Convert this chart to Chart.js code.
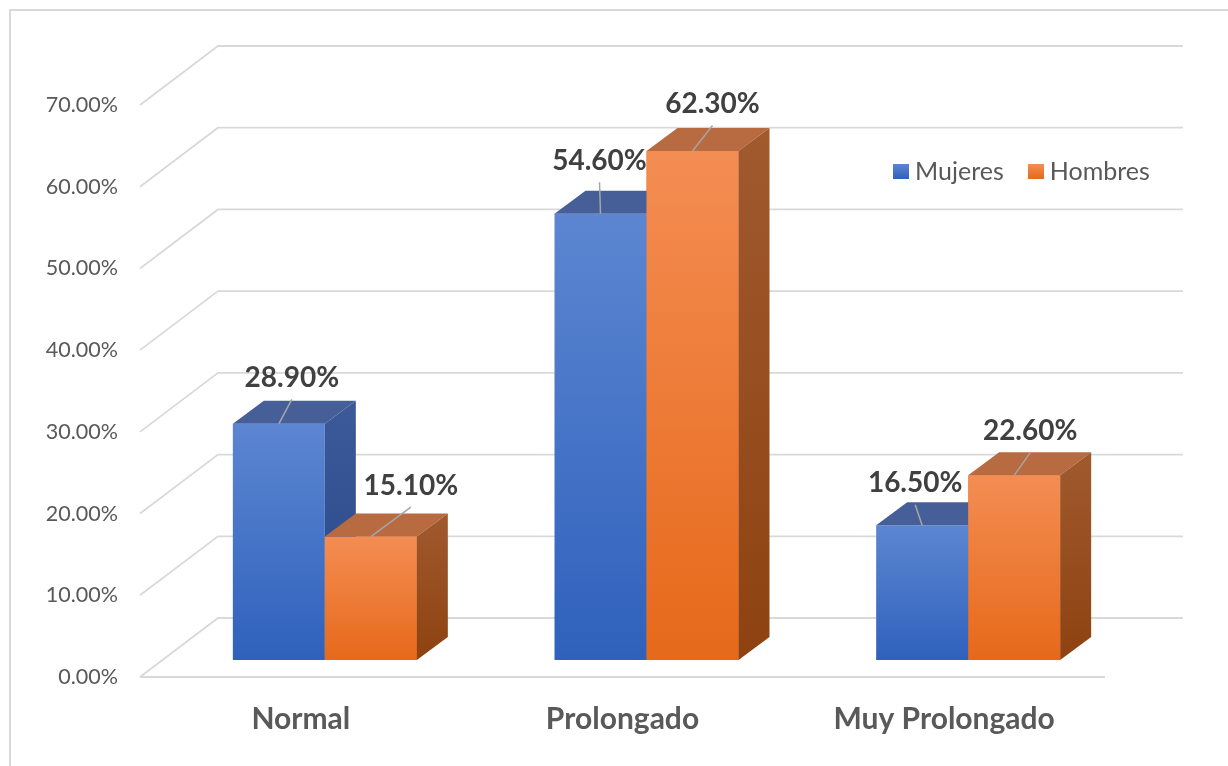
<!DOCTYPE html>
<html>
<head>
<meta charset="utf-8">
<script src="https://cdn.jsdelivr.net/npm/chart.js@4.4.1/dist/chart.umd.min.js"></script>
<style>
  html, body { margin: 0; padding: 0; background: #ffffff; }
  #wrap { position: relative; width: 1228px; height: 766px; overflow: hidden; }
  #frame { position: absolute; left: 9px; top: 9px; width: 1260px; height: 800px;
           border: 2px solid #D9D9D9; box-sizing: border-box; }
  #chartBox { position: absolute; left: 0; top: 0; width: 1228px; height: 766px; }
  #legend { position: absolute; left: 893px; top: 155px; display: flex; align-items: center;
            font-family: Lato, "Open Sans", sans-serif; font-size: 25px; color: #595959; }
  .item { display: flex; align-items: center; margin-right: 24px; }
  .sw { width: 16px; height: 15px; margin-right: 6px; margin-top: 2px; }
</style>
</head>
<body>
<div id="wrap">
  <div id="frame"></div>
  <div id="chartBox"><canvas id="c"></canvas></div>
  <div id="legend"></div>
</div>
<script>
// ---------- data ----------
const categories = ['Normal', 'Prolongado', 'Muy Prolongado'];
const seriesNames = ['Mujeres', 'Hombres'];
const mujeres = [28.9, 54.6, 16.5];
const hombres = [15.1, 62.3, 22.6];
const yTicks = [0, 10, 20, 30, 40, 50, 60, 70];

// ---------- style ----------
const frontTop = ['#5C86D1', '#F48D53'];
const frontBot = ['#2F61BC', '#E6691A'];
const topFace  = ['#475F98', '#B86A40'];
const sideTop  = ['#3C5A98', '#A05A2E'];
const sideBot  = ['#28478A', '#8E4211'];
const FRONT = { dx: -24, dy: 17 };   // front floor edge relative to bar plane
const BACK  = { dx: 54,  dy: -42 };  // back wall relative to bar plane
const DEPTH = { dx: 31,  dy: -23 };  // bar depth
// label placement nudges [series][category] relative to bar top centre (dx, dy)
const labelNudge = [
  [[13, -47], [-1, -54], [-7, -43]],
  [[40, -52], [20, -48], [16, -45]]
];

function fmt(v) { return Number(v).toFixed(2) + '%'; }

function frontFill(c, di) {
  const chart = c.chart;
  const y = chart.scales && chart.scales.y;
  if (!y || c.raw === undefined) return frontTop[di];
  const t = y.getPixelForValue(c.raw), b = y.getPixelForValue(0);
  if (!isFinite(t) || !isFinite(b)) return frontTop[di];
  const g = chart.ctx.createLinearGradient(0, t, 0, b);
  g.addColorStop(0, frontTop[di]);
  g.addColorStop(1, frontBot[di]);
  return g;
}

const threeD = {
  id: 'threeD',
  beforeDatasetsDraw(chart) {
    const { ctx, chartArea: a, scales: { y } } = chart;
    ctx.save();
    ctx.strokeStyle = '#D9D9D9';
    ctx.lineWidth = 1.8;
    yTicks.forEach(v => {
      const p = y.getPixelForValue(v);
      ctx.beginPath();
      ctx.moveTo(a.left + FRONT.dx, p + FRONT.dy);
      ctx.lineTo(a.left + BACK.dx, p + BACK.dy);
      ctx.lineTo(a.right + BACK.dx, p + BACK.dy);
      ctx.stroke();
    });
    const p0 = y.getPixelForValue(0);
    ctx.beginPath();
    ctx.moveTo(a.left + FRONT.dx, p0 + FRONT.dy);
    ctx.lineTo(a.right + FRONT.dx, p0 + FRONT.dy);
    ctx.stroke();
    ctx.restore();
  },
  afterDatasetsDraw(chart) {
    const ctx = chart.ctx;
    const metas = seriesNames.map((s, i) => chart.getDatasetMeta(i));
    ctx.save();
    categories.forEach((cat, ci) => {
      metas.forEach((meta, di) => {
        const el = meta.data[ci];
        if (di > 0) el.draw(ctx);
        const { x, y, width, base } = el.getProps(['x', 'y', 'width', 'base'], true);
        const l = x - width / 2, r = x + width / 2;
        // top face
        ctx.fillStyle = topFace[di];
        ctx.beginPath();
        ctx.moveTo(l, y);
        ctx.lineTo(l + DEPTH.dx, y + DEPTH.dy);
        ctx.lineTo(r + DEPTH.dx, y + DEPTH.dy);
        ctx.lineTo(r, y);
        ctx.closePath();
        ctx.fill();
        // side face
        const g = ctx.createLinearGradient(0, y + DEPTH.dy, 0, base);
        g.addColorStop(0, sideTop[di]);
        g.addColorStop(1, sideBot[di]);
        ctx.fillStyle = g;
        ctx.beginPath();
        ctx.moveTo(r, y);
        ctx.lineTo(r + DEPTH.dx, y + DEPTH.dy);
        ctx.lineTo(r + DEPTH.dx, base + DEPTH.dy);
        ctx.lineTo(r, base);
        ctx.closePath();
        ctx.fill();
      });
    });
    // data labels with leader lines
    ctx.font = 'bold 28px Lato, "Open Sans", sans-serif';
    ctx.fillStyle = '#404040';
    ctx.textAlign = 'center';
    ctx.textBaseline = 'alphabetic';
    metas.forEach((meta, di) => {
      meta.data.forEach((el, ci) => {
        const { x, y } = el.getProps(['x', 'y'], true);
        const val = chart.data.datasets[di].data[ci];
        const [dx, dy] = labelNudge[di][ci];
        const cx = x + dx, cy = y + dy;
        ctx.strokeStyle = '#A6A6A6';
        ctx.lineWidth = 1.5;
        ctx.beginPath();
        ctx.moveTo(x, y);
        ctx.lineTo(cx, cy + 22.5);
        ctx.stroke();
        ctx.fillText(fmt(val), cx, cy + 10);
      });
    });
    ctx.restore();
  }
};

const seriesData = [mujeres, hombres];
new Chart(document.getElementById('c'), {
  type: 'bar',
  data: {
    labels: categories,
    datasets: seriesNames.map((name, di) => ({
      label: name,
      data: seriesData[di],
      backgroundColor: c => frontFill(c, di),
      borderWidth: 0,
      barPercentage: 1,
      categoryPercentage: 0.572
    }))
  },
  options: {
    responsive: true,
    maintainAspectRatio: false,
    animation: false,
    layout: { padding: { left: 0, right: 99, top: 88, bottom: 0 } },
    plugins: { legend: { display: false }, tooltip: { enabled: false } },
    scales: {
      x: {
        grid: { display: false, drawTicks: false },
        border: { display: false },
        ticks: { font: { family: 'Lato', size: 30, weight: 'bold' }, color: '#595959',
                 padding: 41, labelOffset: -24, maxRotation: 0, autoSkip: false },
        afterFit: s => { s.height = 106; }
      },
      y: {
        min: 0, max: 70,
        grid: { display: false, drawTicks: false },
        border: { display: false },
        afterBuildTicks: s => { s.ticks = yTicks.map(v => ({ value: v })); },
        ticks: { font: { family: 'Lato', size: 21.5 }, color: '#595959', padding: 46,
                 labelOffset: 17, callback: v => fmt(v) },
        afterFit: s => { s.width = 164; }
      }
    }
  },
  plugins: [threeD]
});

// legend (HTML)
const lg = document.getElementById('legend');
seriesNames.forEach((name, di) => {
  const it = document.createElement('div');
  it.className = 'item';
  const sw = document.createElement('div');
  sw.className = 'sw';
  sw.style.background = 'linear-gradient(' + frontTop[di] + ',' + frontBot[di] + ')';
  const tx = document.createElement('span');
  tx.textContent = name;
  it.appendChild(sw); it.appendChild(tx);
  lg.appendChild(it);
});
</script>
</body>
</html>
